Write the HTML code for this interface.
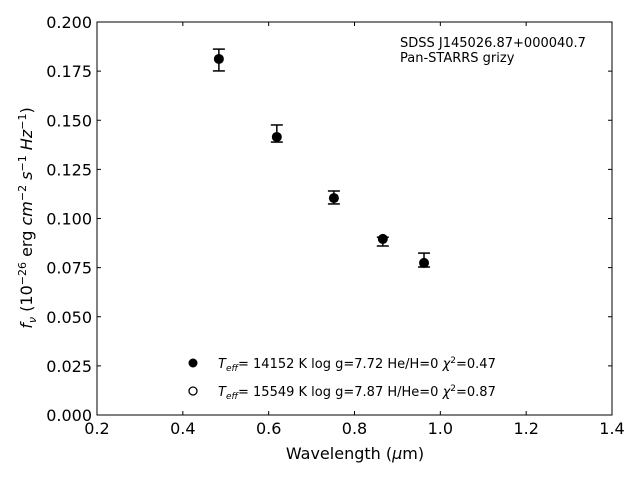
<!DOCTYPE html>
<html><head><meta charset="utf-8"><style>
body{margin:0;background:#fff}
svg{display:block;font-family:"DejaVu Sans","Liberation Sans",sans-serif}
</style></head><body>
<svg id="chart" width="640" height="480">
<rect x="97" y="22" width="515" height="393" fill="none" stroke="#000" stroke-width="1"/>
<g id="ticks"></g>
<g id="marks"></g>
<text x="400" y="47" font-size="13">SDSS J145026.87+000040.7</text>
<text x="400" y="62" font-size="13">Pan-STARRS grizy</text>
<text x="355" y="459" font-size="16" text-anchor="middle">Wavelength (<tspan font-style="italic">μ</tspan>m)</text>
<text transform="translate(32,218) rotate(-90)" font-size="16" text-anchor="middle"><tspan font-style="italic">f</tspan><tspan font-style="italic" font-size="11" dy="4">ν</tspan><tspan dy="-4"> (10</tspan><tspan font-size="11" dy="-6">−26</tspan><tspan dy="6"> erg </tspan><tspan font-style="italic">cm</tspan><tspan font-size="11" dy="-6">−2</tspan><tspan dy="6" font-style="italic"> s</tspan><tspan font-size="11" dy="-6">−1</tspan><tspan dy="6" font-style="italic"> Hz</tspan><tspan font-size="11" dy="-6">−1</tspan><tspan dy="6">)</tspan></text>
<g>
<circle cx="193" cy="363" r="4.5" fill="#000"/>
<text x="218" y="368" font-size="13"><tspan font-style="italic">T</tspan><tspan font-style="italic" font-size="9" dy="3">eff</tspan><tspan dy="-3">= 14152 K  log g=7.72  He/H=0  </tspan><tspan font-style="italic">χ</tspan><tspan font-size="9" dy="-5">2</tspan><tspan dy="5">=0.47</tspan></text>
<circle cx="193" cy="391" r="4" fill="#fff" stroke="#000" stroke-width="1.3"/>
<text x="218" y="396" font-size="13"><tspan font-style="italic">T</tspan><tspan font-style="italic" font-size="9" dy="3">eff</tspan><tspan dy="-3">= 15549 K  log g=7.87  H/He=0  </tspan><tspan font-style="italic">χ</tspan><tspan font-size="9" dy="-5">2</tspan><tspan dy="5">=0.87</tspan></text>
</g>
</svg>
<script>
const wavelengths=[0.484,0.619,0.752,0.866,0.962];
const fluxes=[0.1812,0.1415,0.1104,0.0896,0.0774];
const errLow=[0.1751,0.1389,0.1074,0.0860,0.0753];
const errHigh=[0.1862,0.1476,0.1140,0.0905,0.0824];
const xTicks=[0.2,0.4,0.6,0.8,1.0,1.2,1.4];
const xTickLabels=["0.2","0.4","0.6","0.8","1.0","1.2","1.4"];
const yTicks=[0,0.025,0.05,0.075,0.1,0.125,0.15,0.175,0.2];
const yTickLabels=["0.000","0.025","0.050","0.075","0.100","0.125","0.150","0.175","0.200"];
const NS="http://www.w3.org/2000/svg";
const X=v=>97+(v-0.2)/1.2*515;
const Y=v=>415-v/0.2*393;
function mk(tag,attrs,parent){const e=document.createElementNS(NS,tag);for(const k in attrs)e.setAttribute(k,attrs[k]);parent.appendChild(e);return e;}
const tg=document.getElementById('ticks');
xTicks.forEach((v,i)=>{
 const x=X(v);
 let l=mk('line',{x1:x,x2:x,y1:415,y2:411,stroke:'#000'},tg);
 
 
 l=mk('line',{x1:x,x2:x,y1:22,y2:26,stroke:'#000'},tg);
 
 
 const t=mk('text',{x:x,y:434,'font-size':16,'text-anchor':'middle'},tg);t.textContent=xTickLabels[i];
 
 
});
yTicks.forEach((v,i)=>{
 const y=Y(v);
 let l=mk('line',{x1:97,x2:101,y1:y,y2:y,stroke:'#000'},tg);
 
 
 l=mk('line',{x1:608,x2:612,y1:y,y2:y,stroke:'#000'},tg);
 
 
 const t=mk('text',{x:92,y:y+6,'font-size':16,'text-anchor':'end'},tg);t.textContent=yTickLabels[i];
 
 
});
const mg=document.getElementById('marks');
wavelengths.forEach((w,i)=>{
 const x=X(w),g=mk('g',{},mg);
 
 
 mk('line',{x1:x,x2:x,y1:Y(errLow[i]),y2:Y(errHigh[i]),stroke:'#000','stroke-width':1.5},g);
 mk('line',{x1:x-6,x2:x+6,y1:Y(errLow[i]),y2:Y(errLow[i]),stroke:'#000','stroke-width':1.5},g);
 mk('line',{x1:x-6,x2:x+6,y1:Y(errHigh[i]),y2:Y(errHigh[i]),stroke:'#000','stroke-width':1.5},g);
 mk('circle',{cx:x,cy:Y(fluxes[i]),r:5,fill:'#000'},g);
});
</script>
</body></html>
